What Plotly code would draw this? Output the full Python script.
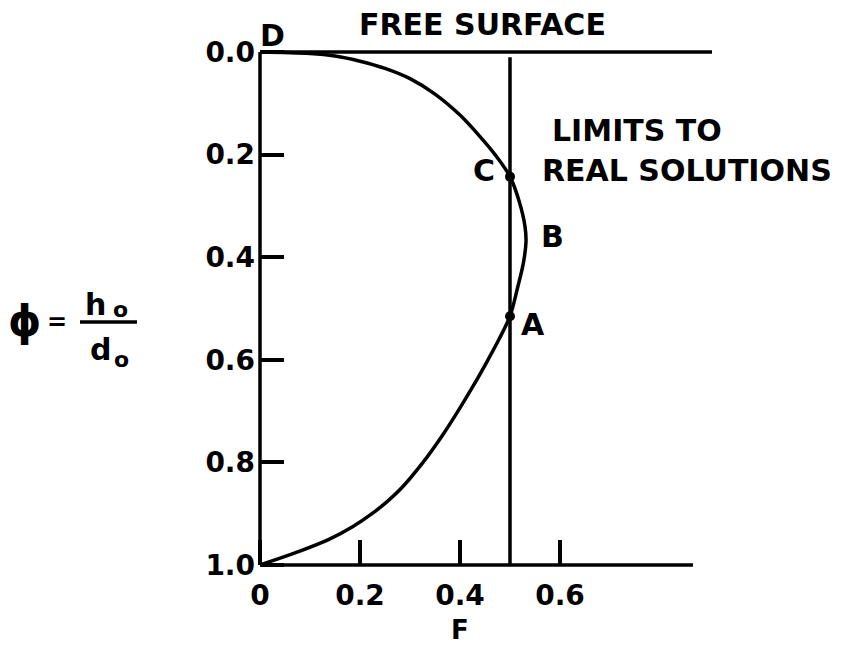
import plotly.graph_objects as go

# Relative depth phi = h0/d0 against F along the free-surface solution curve
curve_F = [0.0, 0.1, 0.15, 0.2, 0.25, 0.3, 0.35, 0.4, 0.44, 0.47, 0.5,
           0.518, 0.53, 0.532, 0.527, 0.515, 0.5,
           0.478, 0.456, 0.427, 0.396, 0.363, 0.326, 0.283, 0.256, 0.224, 0.186,
           0.138, 0.074, 0.0]
curve_phi = [0.0, 0.003, 0.008, 0.018, 0.032, 0.052, 0.082, 0.123, 0.165, 0.2, 0.243,
             0.29, 0.34, 0.37, 0.41, 0.46, 0.515,
             0.56, 0.6, 0.65, 0.7, 0.75, 0.8, 0.85, 0.875, 0.9, 0.925,
             0.95, 0.975, 1.0]

# Free surface (phi = 0), bed (phi = 1), vertical axis and the limit F = 0.5
surface_F = [0.0, 0.904]
surface_phi = [0.0, 0.0]
bed_F = [0.0, 0.866]
bed_phi = [1.0, 1.0]
axis_F = [0.0, 0.0]
axis_phi = [0.0, 1.0]
limit_F = [0.5, 0.5]
limit_phi = [0.01, 1.0]

# Points C and A where the curve meets the limit
point_F = [0.5, 0.5]
point_phi = [0.243, 0.515]

x_ticks = [0.0, 0.2, 0.4, 0.6]
x_labels = ["0", "0.2", "0.4", "0.6"]
y_ticks = [0.0, 0.2, 0.4, 0.6, 0.8, 1.0]
y_labels = ["0.0", "0.2", "0.4", "0.6", "0.8", "1.0"]

W, H = 844, 646
PPU_X, PPU_Y = 500, 513
PAD = 10
L = 250
T = 42
plot_w = int(round((0.92 + PAD / PPU_X) * PPU_X))
plot_h = int(round(PPU_Y + 2 * PAD))
R = W - L - plot_w
B = H - T - plot_h

FONT = "DejaVu Sans"
INK = "black"
LW = 3.5


def px(x):
    return (x - L) / plot_w


def py(y):
    return (H - B - y) / plot_h


fig = go.Figure()

for xs, ys in [(surface_F, surface_phi), (bed_F, bed_phi), (axis_F, axis_phi),
               (limit_F, limit_phi)]:
    fig.add_trace(go.Scatter(x=xs, y=ys, mode="lines",
                             line=dict(color=INK, width=LW),
                             showlegend=False, hoverinfo="skip"))

fig.add_trace(go.Scatter(x=curve_F, y=curve_phi, mode="lines",
                         line=dict(color=INK, width=LW, shape="spline", smoothing=1.0),
                         showlegend=False, hoverinfo="skip"))

fig.add_trace(go.Scatter(x=point_F, y=point_phi, mode="markers",
                         marker=dict(color=INK, size=10),
                         showlegend=False, hoverinfo="skip"))

tick_font = dict(family=FONT, size=28, color=INK, weight="bold")

fig.update_xaxes(range=[-PAD / PPU_X, 0.92], anchor="free", position=PAD / plot_h,
                 showline=False, showgrid=False, zeroline=False,
                 tickmode="array", tickvals=x_ticks, ticktext=x_labels,
                 ticks="inside", ticklen=25, tickwidth=LW, tickcolor=INK,
                 tickfont=tick_font, ticklabelstandoff=11)
fig.update_yaxes(range=[1 + PAD / PPU_Y, -PAD / PPU_Y], anchor="free", position=PAD / plot_w,
                 showline=False, showgrid=False, zeroline=False,
                 tickmode="array", tickvals=y_ticks, ticktext=y_labels,
                 ticks="inside", ticklen=23, tickwidth=LW, tickcolor=INK,
                 tickfont=tick_font, ticklabelstandoff=5)


def label(text, x, y, size=30, xanchor="center"):
    fig.add_annotation(text=text, xref="paper", yref="paper", x=px(x), y=py(y),
                       xanchor=xanchor, yanchor="middle", showarrow=False,
                       font=dict(family=FONT, size=size, color=INK, weight="bold"))


label("D", 272, 36)
label("FREE SURFACE", 482, 25)
label("LIMITS TO", 550, 130, xanchor="left")
label("REAL SOLUTIONS", 540, 170, xanchor="left")
label("C", 484, 170)
label("B", 552, 236)
label("A", 533, 324)
label("F", 460, 630, size=26)

# phi = h0 / d0
label("ϕ", 24, 321, size=42)
label("=", 57, 322, size=24)
label("h", 95, 304, size=30)
label("o", 120, 309, size=22)
label("d", 100, 349, size=30)
label("o", 121, 359, size=22)
fig.add_shape(type="line", xref="paper", yref="paper",
              x0=px(80), x1=px(137), y0=py(322), y1=py(322),
              line=dict(color=INK, width=LW))

fig.update_layout(width=W, height=H, margin=dict(l=L, r=R, t=T, b=B),
                  plot_bgcolor="white", paper_bgcolor="white", showlegend=False)

fig.write_html("out.html")
